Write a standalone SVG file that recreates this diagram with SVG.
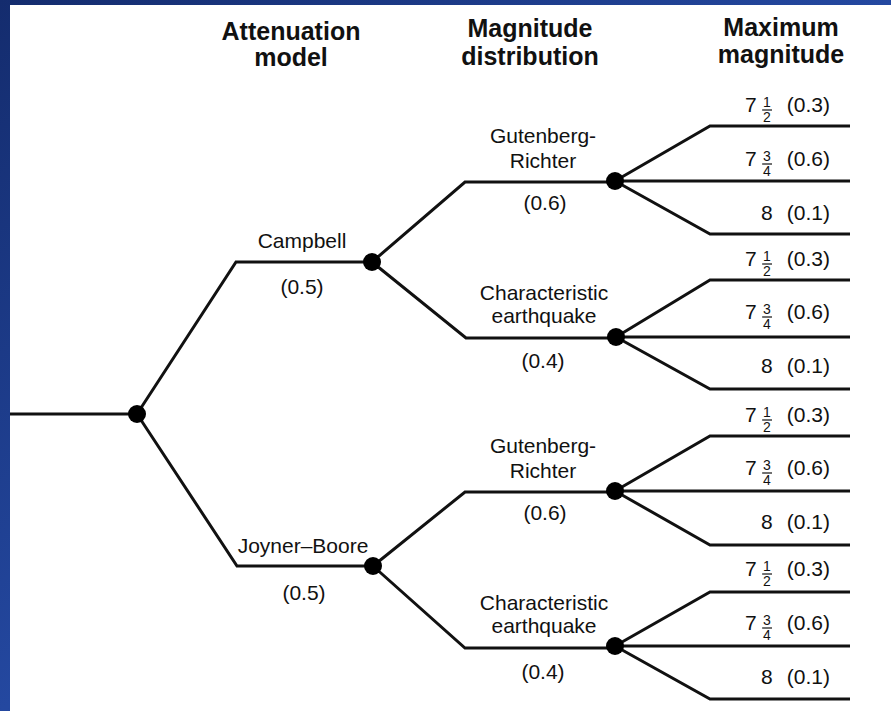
<svg xmlns="http://www.w3.org/2000/svg" width="891" height="711" viewBox="0 0 891 711">
<defs>
<linearGradient id="bg" x1="0" y1="0" x2="1" y2="1">
<stop offset="0" stop-color="#142c6e"/>
<stop offset="0.5" stop-color="#2448a0"/>
<stop offset="1" stop-color="#16306f"/>
</linearGradient>
<style>
.ln{fill:none;stroke:#111;stroke-width:3;stroke-linejoin:miter}
.nd{fill:#000}
.h{font-family:"Liberation Sans",Arial,sans-serif;font-weight:bold;font-size:25px;fill:#111;text-anchor:middle}
.t{font-family:"Liberation Sans",Arial,sans-serif;font-size:21px;fill:#111;text-anchor:middle}
.ts{font-family:"Liberation Sans",Arial,sans-serif;font-size:21px;fill:#111}
.te{font-family:"Liberation Sans",Arial,sans-serif;font-size:21px;fill:#111;text-anchor:end}
.fr{font-family:"Liberation Sans",Arial,sans-serif;font-size:14px;fill:#111;text-anchor:middle}
.fb{stroke:#111;stroke-width:1.2}
</style>
</defs>
<rect x="0" y="0" width="891" height="711" fill="url(#bg)"/>
<rect x="10" y="5" width="881" height="706" fill="#fff"/>

<g id="headers">
<text class="h" x="291" y="40">Attenuation</text>
<text class="h" x="291" y="66">model</text>
<text class="h" x="530" y="37">Magnitude</text>
<text class="h" x="530" y="65">distribution</text>
<text class="h" x="781" y="36">Maximum</text>
<text class="h" x="781" y="63">magnitude</text>
</g>

<g id="connectors">
<path class="ln" d="M10 414H137"/>
<path class="ln" d="M137 414L236 262H372"/>
<path class="ln" d="M137 414L237 566H373"/>
<path class="ln" d="M372 262L465 182H615"/>
<path class="ln" d="M372 262L466 338H616"/>
<path class="ln" d="M373 566L465 492H615"/>
<path class="ln" d="M373 566L465 648H615"/>
<path class="ln" d="M615 181L710 126H850M615 181H850M615 181L710 234H850"/>
<path class="ln" d="M616 337L710 280H850M616 337H850M616 337L710 389H850"/>
<path class="ln" d="M615 491L710 436H850M615 491H850M615 491L710 545H850"/>
<path class="ln" d="M615 646L710 592H850M615 646H850M615 646L710 699H850"/>
</g>

<g id="root"><circle class="nd" cx="137" cy="414" r="9"/></g>

<g id="campbell">
<circle class="nd" cx="372" cy="262" r="9"/>
<text class="t" x="302" y="248">Campbell</text>
<text class="t" x="302" y="294">(0.5)</text>
</g>
<g id="joyner-boore">
<circle class="nd" cx="373" cy="566" r="9"/>
<text class="t" x="303" y="553">Joyner–Boore</text>
<text class="t" x="304" y="600">(0.5)</text>
</g>

<g id="gr1">
<circle class="nd" cx="615" cy="181" r="9"/>
<text class="t" x="543" y="143">Gutenberg-</text>
<text class="t" x="543" y="168">Richter</text>
<text class="t" x="545" y="210">(0.6)</text>
</g>
<g id="ce1">
<circle class="nd" cx="616" cy="337" r="9"/>
<text class="t" x="544" y="300">Characteristic</text>
<text class="t" x="544" y="323">earthquake</text>
<text class="t" x="543" y="368">(0.4)</text>
</g>
<g id="gr2">
<circle class="nd" cx="615" cy="491" r="9"/>
<text class="t" x="543" y="453">Gutenberg-</text>
<text class="t" x="543" y="478">Richter</text>
<text class="t" x="545" y="520">(0.6)</text>
</g>
<g id="ce2">
<circle class="nd" cx="615" cy="646" r="9"/>
<text class="t" x="544" y="610">Characteristic</text>
<text class="t" x="544" y="633">earthquake</text>
<text class="t" x="543" y="679">(0.4)</text>
</g>

<g id="leaf-1">
<text class="ts" x="745" y="112">7</text><text class="fr" x="767" y="107">1</text><line class="fb" x1="762" y1="110" x2="772" y2="110"/><text class="fr" x="767" y="122">2</text>
<text class="te" x="830" y="112">(0.3)</text>
</g>
<g id="leaf-2">
<text class="ts" x="745" y="166">7</text><text class="fr" x="767" y="161">3</text><line class="fb" x1="762" y1="164" x2="772" y2="164"/><text class="fr" x="767" y="176">4</text>
<text class="te" x="830" y="166">(0.6)</text>
</g>
<g id="leaf-3">
<text class="ts" x="761" y="220">8</text>
<text class="te" x="830" y="220">(0.1)</text>
</g>
<g id="leaf-4">
<text class="ts" x="745" y="266">7</text><text class="fr" x="767" y="261">1</text><line class="fb" x1="762" y1="264" x2="772" y2="264"/><text class="fr" x="767" y="276">2</text>
<text class="te" x="830" y="266">(0.3)</text>
</g>
<g id="leaf-5">
<text class="ts" x="745" y="319">7</text><text class="fr" x="767" y="314">3</text><line class="fb" x1="762" y1="317" x2="772" y2="317"/><text class="fr" x="767" y="329">4</text>
<text class="te" x="830" y="319">(0.6)</text>
</g>
<g id="leaf-6">
<text class="ts" x="761" y="373">8</text>
<text class="te" x="830" y="373">(0.1)</text>
</g>
<g id="leaf-7">
<text class="ts" x="745" y="422">7</text><text class="fr" x="767" y="417">1</text><line class="fb" x1="762" y1="420" x2="772" y2="420"/><text class="fr" x="767" y="432">2</text>
<text class="te" x="830" y="422">(0.3)</text>
</g>
<g id="leaf-8">
<text class="ts" x="745" y="475">7</text><text class="fr" x="767" y="470">3</text><line class="fb" x1="762" y1="473" x2="772" y2="473"/><text class="fr" x="767" y="485">4</text>
<text class="te" x="830" y="475">(0.6)</text>
</g>
<g id="leaf-9">
<text class="ts" x="761" y="529">8</text>
<text class="te" x="830" y="529">(0.1)</text>
</g>
<g id="leaf-10">
<text class="ts" x="745" y="576">7</text><text class="fr" x="767" y="571">1</text><line class="fb" x1="762" y1="574" x2="772" y2="574"/><text class="fr" x="767" y="586">2</text>
<text class="te" x="830" y="576">(0.3)</text>
</g>
<g id="leaf-11">
<text class="ts" x="745" y="630">7</text><text class="fr" x="767" y="625">3</text><line class="fb" x1="762" y1="628" x2="772" y2="628"/><text class="fr" x="767" y="640">4</text>
<text class="te" x="830" y="630">(0.6)</text>
</g>
<g id="leaf-12">
<text class="ts" x="761" y="684">8</text>
<text class="te" x="830" y="684">(0.1)</text>
</g>
</svg>
